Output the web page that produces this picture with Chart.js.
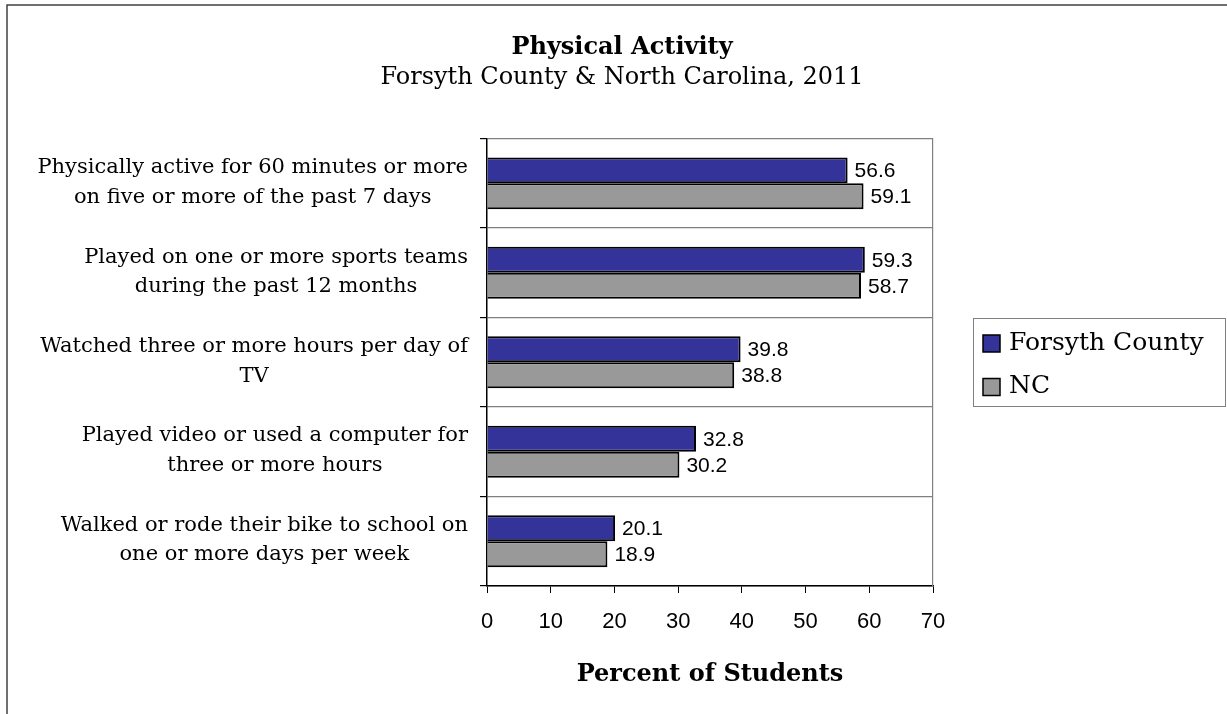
<!DOCTYPE html>
<html>
<head>
<meta charset="utf-8">
<title>Physical Activity</title>
<script src="https://cdn.jsdelivr.net/npm/chart.js@4.4.1/dist/chart.umd.min.js"></script>
<style>
  body { margin: 0; background: #fff; }
  canvas { display: block; }
</style>
</head>
<body>
<canvas id="chart" width="1227" height="714"></canvas>
<script>
"use strict";

let categories = [
  ['Physically active for 60 minutes or more', 'on five or more of the past 7 days'],
  ['Played on one or more sports teams', 'during the past 12 months'],
  ['Watched three or more hours per day of', 'TV'],
  ['Played video or used a computer for', 'three or more hours'],
  ['Walked or rode their bike to school on', 'one or more days per week']
];
let seriesNames = ['Forsyth County', 'NC'];
let forsythValues = [56.6, 59.3, 39.8, 32.8, 20.1];
let ncValues = [59.1, 58.7, 38.8, 30.2, 18.9];
let xTicks = [0, 10, 20, 30, 40, 50, 60, 70];

let serif = '"DejaVu Serif", serif';
let sans = '"Liberation Sans", Arial, sans-serif';

// outer frame of the picture (top and left edges only, the rest is cut off)
let frame = {
  id: 'frame',
  beforeDraw(chart) {
    let ctx = chart.ctx;
    ctx.save();
    ctx.fillStyle = '#fff';
    ctx.fillRect(0, 0, chart.width, chart.height);
    ctx.strokeStyle = '#404040';
    ctx.lineWidth = 1.5;
    ctx.beginPath();
    ctx.moveTo(7, chart.height);
    ctx.lineTo(7, 5);
    ctx.lineTo(chart.width, 5);
    ctx.stroke();
    ctx.restore();
  }
};

// category labels: block right aligned, lines centred inside the block
let categoryLabels = {
  id: 'categoryLabels',
  afterDraw(chart) {
    let ctx = chart.ctx;
    let yScale = chart.scales.y;
    ctx.save();
    ctx.font = '21px ' + serif;
    ctx.fillStyle = '#000';
    ctx.textAlign = 'center';
    ctx.textBaseline = 'middle';
    categories.forEach((lines, i) => {
      let widest = Math.max(...lines.map(l => ctx.measureText(l).width));
      let cx = yScale.right - 19 - widest / 2;
      let cy = yScale.getPixelForValue(i) - 1;
      lines.forEach((line, j) => {
        ctx.fillText(line, cx, cy + (j - (lines.length - 1) / 2) * 29.5);
      });
    });
    ctx.restore();
  }
};

// numbers at the end of each bar
let valueLabels = {
  id: 'valueLabels',
  afterDatasetsDraw(chart) {
    let ctx = chart.ctx;
    ctx.save();
    ctx.font = '21px ' + sans;
    ctx.fillStyle = '#000';
    ctx.textAlign = 'left';
    ctx.textBaseline = 'middle';
    chart.data.datasets.forEach((ds, d) => {
      chart.getDatasetMeta(d).data.forEach((bar, i) => {
        ctx.fillText(ds.data[i].toFixed(1), bar.x + 7, bar.y + 1);
      });
    });
    ctx.restore();
  }
};

// legend with a box round it, right of the plot
let boxLegend = {
  id: 'boxLegend',
  afterDraw(chart) {
    let ctx = chart.ctx;
    let left = chart.chartArea.right + 40;
    ctx.save();
    ctx.strokeStyle = '#808080';
    ctx.lineWidth = 1;
    ctx.strokeRect(left + 0.5, 318.5, 252, 88);
    ctx.font = '25px ' + serif;
    ctx.textBaseline = 'middle';
    chart.data.datasets.forEach((ds, i) => {
      let y = 343 + i * 43.5;
      ctx.fillStyle = ds.backgroundColor;
      ctx.fillRect(left + 10, y - 8, 17, 17);
      ctx.strokeStyle = '#000';
      ctx.lineWidth = 1.5;
      ctx.strokeRect(left + 10, y - 8, 17, 17);
      ctx.fillStyle = '#000';
      ctx.fillText(ds.label, left + 36, y);
    });
    ctx.restore();
  }
};

let data = {
  labels: categories,
  datasets: [
    {
      label: seriesNames[0],
      data: forsythValues,
      backgroundColor: '#333399',
      borderColor: '#000',
      borderWidth: 2
    },
    {
      label: seriesNames[1],
      data: ncValues,
      backgroundColor: '#999999',
      borderColor: '#000',
      borderWidth: 2
    }
  ]
};

let config = {
  type: 'bar',
  data: data,
  options: {
    indexAxis: 'y',
    responsive: false,
    animation: false,
    devicePixelRatio: 1,
    categoryPercentage: 0.58,
    barPercentage: 1,
    layout: { padding: { left: 17, right: 0, top: 0, bottom: 0 } },
    plugins: {
      legend: { display: false },
      tooltip: { enabled: false },
      title: {
        display: true,
        text: 'Physical Activity',
        color: '#000',
        font: { family: serif, size: 24, weight: 'bold' },
        padding: { top: 33, bottom: 0 }
      },
      subtitle: {
        display: true,
        text: 'Forsyth County & North Carolina, 2011',
        color: '#000',
        font: { family: serif, size: 24 },
        padding: { top: 2, bottom: 46 }
      }
    },
    scales: {
      x: {
        min: xTicks[0],
        max: xTicks[xTicks.length - 1],
        ticks: {
          stepSize: xTicks[1] - xTicks[0],
          color: '#000',
          font: { family: sans, size: 22 },
          padding: 16
        },
        grid: {
          drawOnChartArea: false,
          color: '#000',
          tickColor: '#000',
          tickLength: 7
        },
        border: { color: '#000', width: 1.5 },
        title: {
          display: true,
          text: 'Percent of Students',
          color: '#000',
          font: { family: serif, size: 24, weight: 'bold' },
          padding: { top: 0, bottom: 25 }
        },
        afterFit(scale) { scale.height = 128; }
      },
      y: {
        ticks: { display: false },
        grid: {
          offset: true,
          color: '#808080',
          tickColor: '#000',
          tickLength: 7,
          lineWidth: 1.2
        },
        border: { color: '#000', width: 1.5 },
        afterFit(scale) { scale.width = 470; }
      },
      y2: {
        type: 'category',
        position: 'right',
        ticks: { display: false },
        grid: { display: true, drawOnChartArea: false, drawTicks: false },
        border: { color: '#808080', width: 1.2 },
        afterFit(scale) { scale.width = 294; }
      }
    }
  },
  plugins: [frame, categoryLabels, valueLabels, boxLegend]
};

let myChart = new Chart(document.getElementById('chart'), config);
</script>
</body>
</html>
